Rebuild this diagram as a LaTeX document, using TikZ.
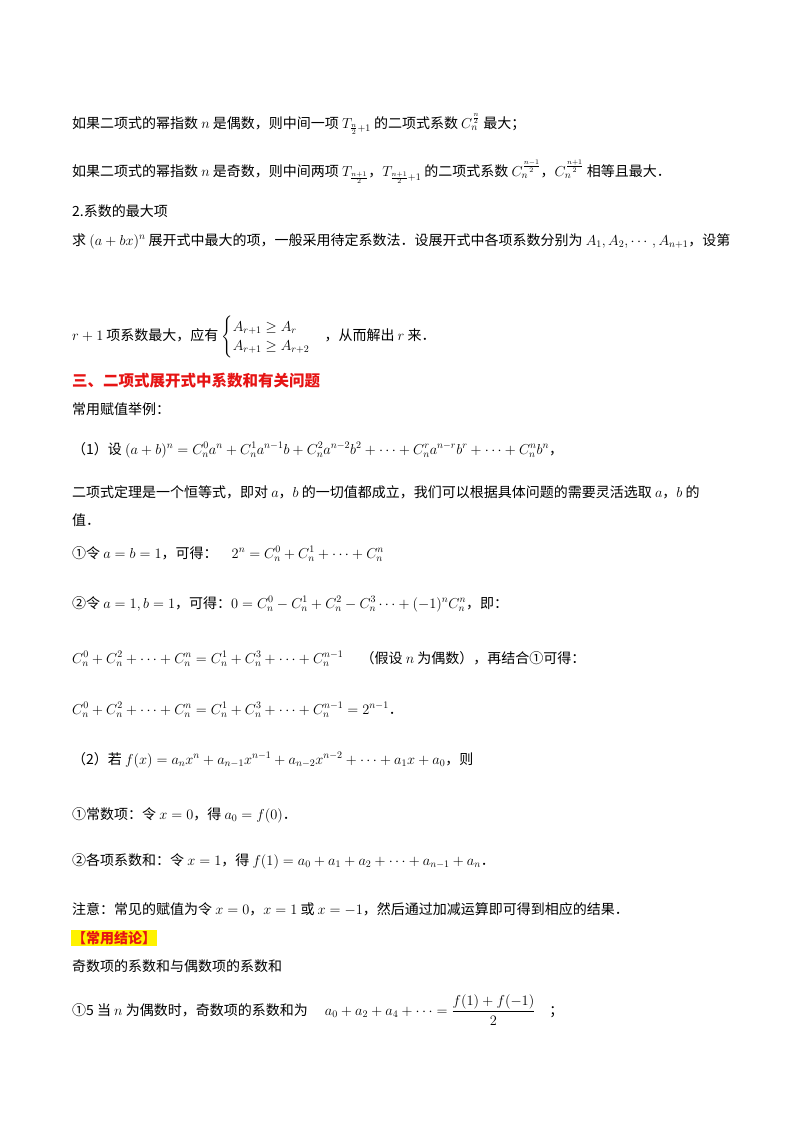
\documentclass[tikz,border=0pt]{standalone}
\usepackage{amsmath,amssymb}
\usepackage{fontspec}
\newfontfamily\cjk{Noto Sans CJK SC}
\definecolor{hred}{RGB}{230,20,20}
\begin{document}
\begin{tikzpicture}[x=1pt,y=-1pt,
  ln/.style={anchor=west,inner sep=0pt,font=\cjk\fontsize{14}{16}\selectfont},
  hd/.style={ln,font=\cjk\bfseries\fontsize{15.5}{17}\selectfont,text=hred}]
\useasboundingbox (0,0) rectangle (800,1132);
\fill[white] (0,0) rectangle (800,1132);
\node[ln] (l1) at (72,124) {如果二项式的幂指数 $n$ 是偶数，则中间一项 $T_{\frac{n}{2}+1}$ 的二项式系数 $C_n^{\frac{n}{2}}$ 最大；};
\node[ln] (l2) at (72,172) {如果二项式的幂指数 $n$ 是奇数，则中间两项 $T_{\frac{n+1}{2}}$，$T_{\frac{n+1}{2}+1}$ 的二项式系数 $C_n^{\frac{n-1}{2}}$，$C_n^{\frac{n+1}{2}}$ 相等且最大．};
\node[ln] (l3) at (72,211) {2.系数的最大项};
\node[ln] (l4) at (72,241) {求 $(a+bx)^n$ 展开式中最大的项，一般采用待定系数法．设展开式中各项系数分别为 $A_1,A_2,\cdots,A_{n+1}$，设第};
\node[ln] (l5) at (72,337) {$r+1$ 项系数最大，应有 $\begin{cases}A_{r+1}\ge A_r\\ A_{r+1}\ge A_{r+2}\end{cases}$，从而解出 $r$ 来．};
\node[hd] (h1) at (72,381) {三、二项式展开式中系数和有关问题};
\node[ln] (l6) at (72,409) {常用赋值举例：};
\node[ln] (l7) at (72,450) {（1）设 $(a+b)^n=C_n^0a^n+C_n^1a^{n-1}b+C_n^2a^{n-2}b^2+\cdots+C_n^ra^{n-r}b^r+\cdots+C_n^nb^n$，};
\node[ln] (l8) at (72,492) {二项式定理是一个恒等式，即对 $a$，$b$ 的一切值都成立，我们可以根据具体问题的需要灵活选取 $a$，$b$ 的};
\node[ln] (l9) at (72,520) {值．};
\node[ln] (l10) at (72,554) {①令 $a=b=1$，可得：\quad $2^n=C_n^0+C_n^1+\cdots+C_n^n$};
\node[ln] (l11) at (72,604) {②令 $a=1,b=1$，可得：$0=C_n^0-C_n^1+C_n^2-C_n^3\cdots+(-1)^nC_n^n$，即：};
\node[ln] (l12) at (72,659) {$C_n^0+C_n^2+\cdots+C_n^n=C_n^1+C_n^3+\cdots+C_n^{n-1}$ \quad（假设 $n$ 为偶数），再结合①可得：};
\node[ln] (l13) at (72,710) {$C_n^0+C_n^2+\cdots+C_n^n=C_n^1+C_n^3+\cdots+C_n^{n-1}=2^{n-1}$．};
\node[ln] (l14) at (72,760) {（2）若 $f(x)=a_nx^n+a_{n-1}x^{n-1}+a_{n-2}x^{n-2}+\cdots+a_1x+a_0$，则};
\node[ln] (l15) at (72,815) {①常数项：令 $x=0$，得 $a_0=f(0)$．};
\node[ln] (l16) at (72,861) {②各项系数和：令 $x=1$，得 $f(1)=a_0+a_1+a_2+\cdots+a_{n-1}+a_n$．};
\node[ln] (l17) at (72,909) {注意：常见的赋值为令 $x=0$，$x=1$ 或 $x=-1$，然后通过加减运算即可得到相应的结果．};
\node[hd,font=\cjk\bfseries\fontsize{14}{16}\selectfont,fill=yellow,inner sep=1pt] (h2) at (71,938) {【常用结论】};
\node[ln] (l18) at (72,966) {奇数项的系数和与偶数项的系数和};
\node[ln] (l19) at (72,1010) {①5 当 $n$ 为偶数时，奇数项的系数和为 \quad $a_0+a_2+a_4+\cdots=\dfrac{f(1)+f(-1)}{2}$\quad；};
\end{tikzpicture}
\end{document}
